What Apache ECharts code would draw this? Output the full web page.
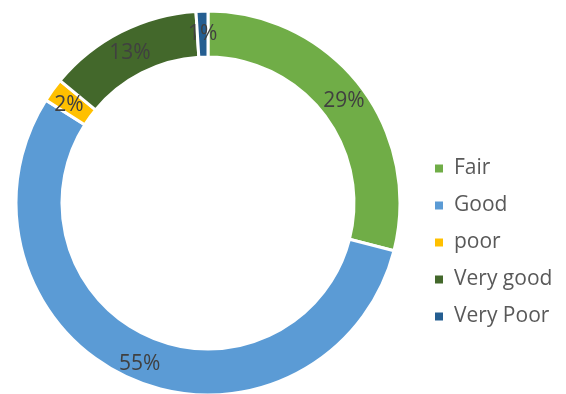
<!DOCTYPE html>
<html>
<head>
<meta charset="utf-8">
<script src="https://cdn.jsdelivr.net/npm/echarts@6/dist/echarts.min.js"></script>
<style>
  html, body { margin: 0; padding: 0; background: #ffffff; }
  #chart { width: 566px; height: 394px; }
</style>
</head>
<body>
<div id="chart"></div>
<script>
// Rating categories and their shares (percent)
const categories = ['Fair', 'Good', 'poor', 'Very good', 'Very Poor'];
const shares = [29, 55, 2, 13, 1];
const colors = ['#70AD47', '#5B9BD5', '#FFC000', '#43682B', '#255E91'];

const chart = echarts.init(document.getElementById('chart'), null, { renderer: 'canvas' });

const data = categories.map((name, i) => ({
  name: name,
  value: shares[i],
  itemStyle: { color: colors[i] }
}));

chart.setOption({
  animation: false,
  backgroundColor: '#ffffff',
  legend: {
    orient: 'vertical',
    left: 433,
    top: 158,
    padding: 0,
    icon: 'rect',
    itemWidth: 10,
    itemHeight: 10,
    itemGap: 16,
    textStyle: {
      fontFamily: 'Open Sans',
      fontSize: 21,
      color: '#595959',
      padding: [0, 0, 0, 5]
    },
    data: categories
  },
  series: [{
    type: 'pie',
    center: [208, 203],
    radius: [146, 192],
    startAngle: 90,
    clockwise: true,
    avoidLabelOverlap: false,
    itemStyle: { borderColor: '#ffffff', borderWidth: 3 },
    label: {
      show: true,
      position: 'inside',
      formatter: '{c}%',
      fontFamily: 'Open Sans',
      fontSize: 21,
      color: '#404040',
      offset: [0, 3]
    },
    labelLine: { show: false },
    emphasis: { disabled: true },
    data: data
  }]
});
</script>
</body>
</html>
